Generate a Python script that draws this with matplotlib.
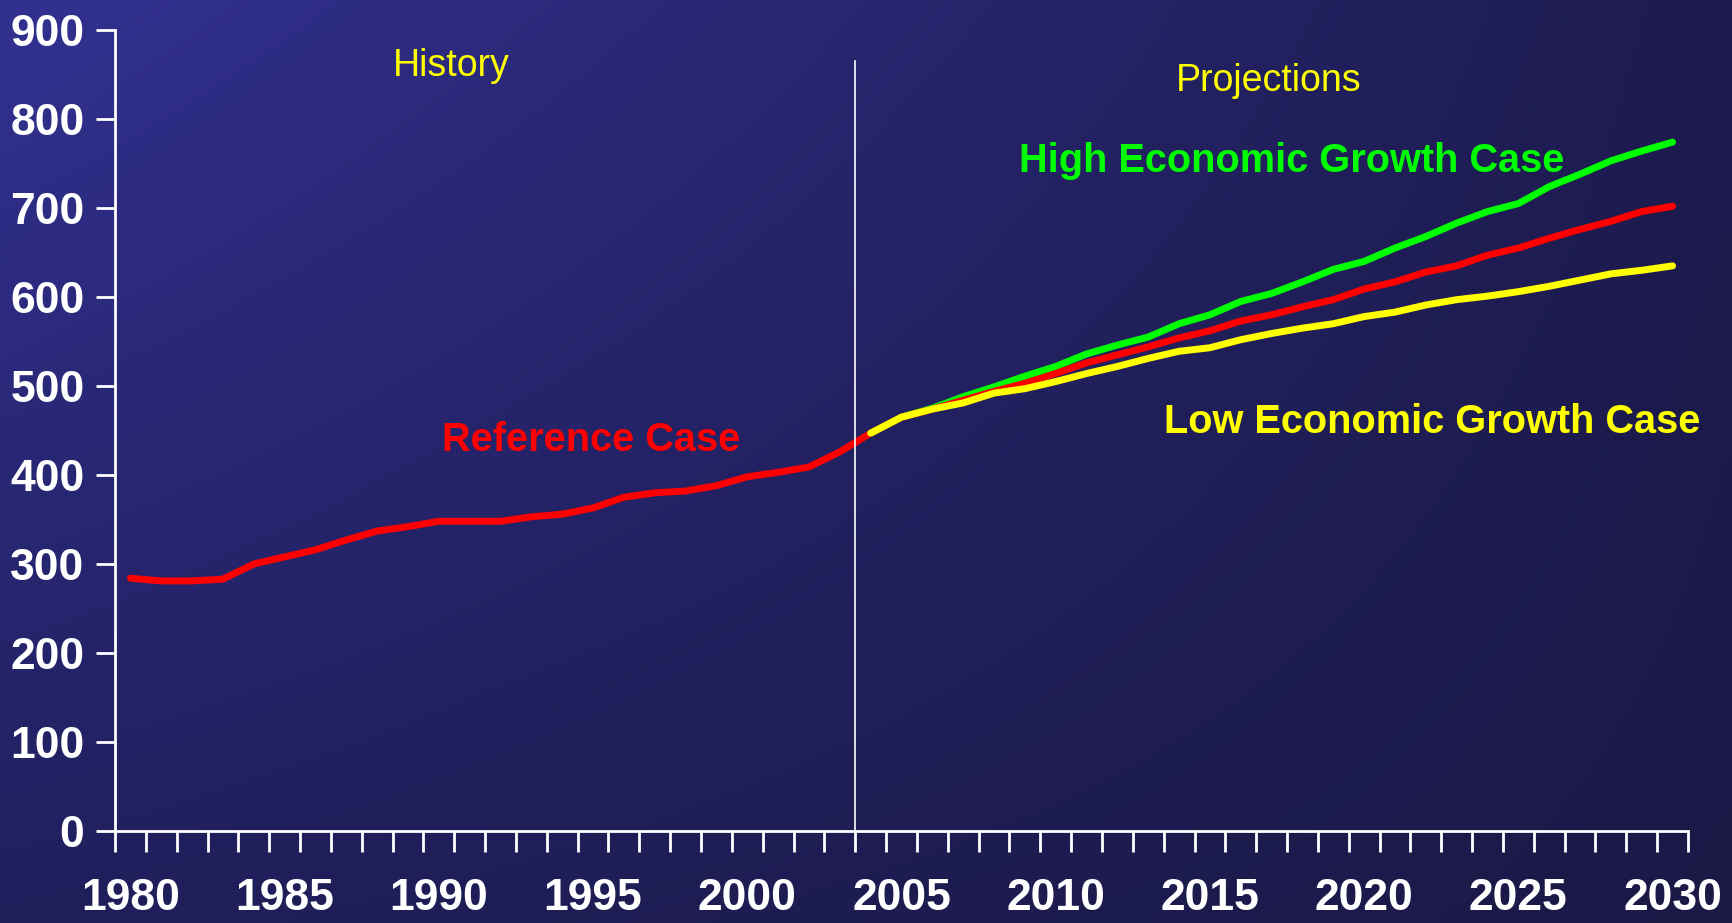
import numpy as np
import matplotlib
matplotlib.use("Agg")
import matplotlib.pyplot as plt

years = list(range(1980, 2031))
proj_years = list(range(2004, 2031))

reference = [284, 281, 281, 283, 300, 308, 316, 327, 337, 342,
             348, 348, 348, 353, 356, 363, 375, 380, 382, 388,
             398, 403, 409, 426, 447, 465, 474, 484, 494, 503,
             514, 526, 535, 544, 554, 562, 573, 580, 589, 597,
             609, 617, 628, 635, 647, 655, 666, 676, 685, 696, 702]
high_growth = [447, 465, 475, 488, 499, 511, 522, 536, 546, 555,
               570, 580, 595, 604, 617, 631, 640, 655, 668, 683,
               696, 705, 724, 738, 753, 764, 774]
low_growth = [447, 465, 474, 481, 492, 497, 505, 514, 522, 531,
              539, 543, 552, 559, 565, 570, 578, 583, 591, 597,
              601, 606, 612, 619, 626, 630, 635]

x_labels = [1980, 1985, 1990, 1995, 2000, 2005, 2010, 2015, 2020, 2025, 2030]
y_ticks = [0, 100, 200, 300, 400, 500, 600, 700, 800, 900]
split_year = 2003.5

plt.rcParams['font.family'] = ['Liberation Sans', 'DejaVu Sans']

W, H = 1732, 923
fig = plt.figure(figsize=(W / 100, H / 100), dpi=100)

# background gradient (lighter top-left, darker to the right/bottom)
bg = fig.add_axes([0, 0, 1, 1], zorder=0)
tl = np.array([50, 49, 145]) / 255
tr = np.array([29, 27, 78]) / 255
bl = np.array([32, 31, 92]) / 255
br = np.array([27, 25, 70]) / 255
u = np.linspace(0, 1, 200)[None, :, None]
v = np.linspace(0, 1, 120)[:, None, None]
grad = (1 - v) * ((1 - u) * tl + u * tr) + v * ((1 - u) * bl + u * br)
bg.imshow(grad, aspect='auto', extent=[0, 1, 0, 1], interpolation='bilinear')
bg.axis('off')

ax = fig.add_axes([115 / W, 1 - 831 / H, (1688 - 115) / W, (831 - 30) / H], zorder=1)
ax.patch.set_visible(False)

lw = 5.0
ax.plot(proj_years, high_growth, color='#00ff00', lw=lw, solid_capstyle='round')
ax.plot(years, reference, color='#ff0000', lw=lw, solid_capstyle='round')
ax.plot(proj_years, low_growth, color='#ffff00', lw=lw, solid_capstyle='round')
ax.axvline(split_year, ymin=0, ymax=865 / 900, color='white', lw=1.2)

ax.set_xlim(1979.5, 2030.5)
ax.set_ylim(0, 900)
for s in ['top', 'right']:
    ax.spines[s].set_visible(False)
for s in ['left', 'bottom']:
    ax.spines[s].set_color('white')
    ax.spines[s].set_linewidth(2)

ax.set_xticks(x_labels)
ax.set_xticks(np.arange(1979.5, 2031, 1), minor=True)
ax.set_yticks(y_ticks)
ax.tick_params(axis='x', which='major', length=0, pad=34, labelsize=32, labelcolor='white')
ax.tick_params(axis='x', which='minor', length=15, width=2, color='white', direction='out')
ax.tick_params(axis='y', length=14, width=2, color='white', pad=8, labelsize=32, labelcolor='white')
for lbl in ax.get_xticklabels() + ax.get_yticklabels():
    lbl.set_fontweight('bold')

ax.text(1990.4, 848, 'History', color='#ffff00', fontsize=27, ha='center', va='baseline')
ax.text(2016.9, 831, 'Projections', color='#ffff00', fontsize=27, ha='center', va='baseline')
ax.text(2008.8, 741, 'High Economic Growth Case', color='#00ff00', fontsize=28.6,
        fontweight='bold', ha='left', va='baseline')
ax.text(2013.5, 447, 'Low Economic Growth Case', color='#ffff00', fontsize=28.6,
        fontweight='bold', ha='left', va='baseline')
ax.text(1990.1, 427, 'Reference Case', color='#ff0000', fontsize=28.6,
        fontweight='bold', ha='left', va='baseline')

fig.savefig('out.png', dpi=100)
